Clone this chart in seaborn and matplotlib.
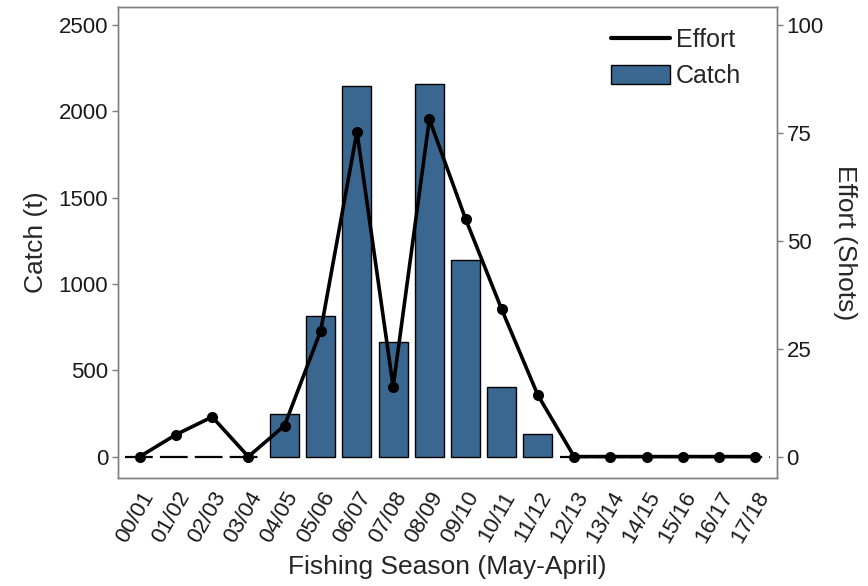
import numpy as np
import pandas as pd
import matplotlib
matplotlib.use("Agg")
import matplotlib.pyplot as plt
import seaborn as sns
from matplotlib.lines import Line2D
from matplotlib.patches import Patch

seasons = ["00/01", "01/02", "02/03", "03/04", "04/05", "05/06", "06/07", "07/08",
           "08/09", "09/10", "10/11", "11/12", "12/13", "13/14", "14/15", "15/16",
           "16/17", "17/18"]
catch = [0, 0, 0, 0, 248, 812, 2150, 664, 2158, 1137, 403, 132, 0, 0, 0, 0, 0, 0]
effort = [0, 5.1, 9.2, 0, 7.2, 29.2, 75.3, 16.2, 78.2, 55.1, 34.1, 14.2, 0, 0, 0, 0, 0, 0]

BAR_COLOR = "#3a6790"
GREY = "#7f7f7f"

sns.set_style("white")
plt.rcParams["font.family"] = ["Liberation Sans", "DejaVu Sans"]

df = pd.DataFrame({"season": seasons, "catch": catch, "effort": effort,
                   "pos": np.arange(len(seasons))})

fig = plt.figure(figsize=(8.68, 5.86), dpi=100)
ax = fig.add_axes([0.136, 0.184, 0.759, 0.804])

sns.barplot(data=df, x="season", y="catch", order=seasons, color=BAR_COLOR,
            saturation=1, width=0.8, edgecolor="black", linewidth=1.0, ax=ax)
for p in ax.patches:
    if p.get_height() == 0:
        p.set_visible(False)

# dashed zero line where no catch was recorded
zero_idx = [i for i, c in enumerate(catch) if c == 0]
runs = []
for i in zero_idx:
    if runs and i == runs[-1][1] + 1:
        runs[-1][1] = i
    else:
        runs.append([i, i])
for a, b in runs:
    ax.hlines(0, a - 0.4, b + 0.4, colors="black", linestyles=(0, (12.5, 3.2)),
              linewidth=1.6, zorder=3)

ax.set_xlim(-0.6, 17.6)
ax.set_ylim(-125, 2605)
ax.set_yticks([0, 500, 1000, 1500, 2000, 2500])

ax2 = ax.twinx()
sns.lineplot(data=df, x="pos", y="effort", color="black", linewidth=2.6,
             marker="o", markersize=8, markeredgewidth=0, ax=ax2, zorder=4)
ax2.set_ylim(-125 / 25, 2605 / 25)
ax2.set_yticks([0, 25, 50, 75, 100])
ax2.set_xlim(-0.6, 17.6)

ax.set_xticks(np.arange(len(seasons)))
ax.set_xticklabels(seasons, rotation=60, ha="right", rotation_mode="anchor")

for a in (ax, ax2):
    for s in a.spines.values():
        s.set_color(GREY)
        s.set_linewidth(1.0)
    a.tick_params(axis="both", which="major", direction="out", length=4,
                  width=1.0, color=GREY, labelsize=16, labelcolor="#1a1a1a", pad=3)

ax.set_xlabel("Fishing Season (May-April)", fontsize=19, labelpad=6)
ax.set_ylabel("Catch (t)", fontsize=19, labelpad=8)
ax2.set_ylabel("Effort (Shots)", fontsize=19, rotation=270, labelpad=24)

handles = [Line2D([0], [0], color="black", linewidth=3),
           Patch(facecolor=BAR_COLOR, edgecolor="black", linewidth=1.0)]
ax2.legend(handles, ["Effort", "Catch"], loc="upper right", frameon=False,
           fontsize=18, handlelength=2.36, handleheight=0.75, handletextpad=0.25,
           labelspacing=0.5, borderaxespad=0.5, bbox_to_anchor=(0.98, 1.004))

fig.savefig("out.png", dpi=100)
